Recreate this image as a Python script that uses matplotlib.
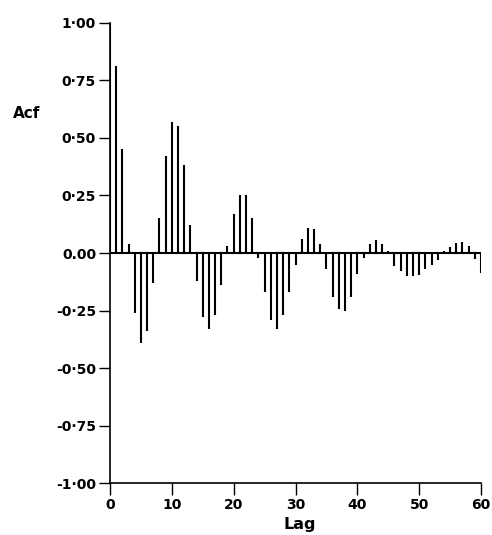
import matplotlib
matplotlib.use("Agg")
import matplotlib.pyplot as plt

lags = list(range(0, 61))
acf = [1.00,
       0.81, 0.45, 0.04, -0.26, -0.39, -0.34, -0.13, 0.15, 0.42, 0.57,
       0.55, 0.38, 0.12, -0.12, -0.28, -0.33, -0.27, -0.14, 0.03, 0.17,
       0.25, 0.25, 0.15, -0.02, -0.17, -0.29, -0.33, -0.27, -0.17, -0.05,
       0.06, 0.11, 0.105, 0.04, -0.07, -0.19, -0.245, -0.25, -0.19, -0.09,
       -0.02, 0.04, 0.055, 0.04, 0.007, -0.055, -0.08, -0.10, -0.10, -0.095,
       -0.07, -0.05, -0.03, 0.007, 0.025, 0.043, 0.046, 0.03, -0.026, -0.087]

yticks = [1.00, 0.75, 0.50, 0.25, 0.00, -0.25, -0.50, -0.75, -1.00]
ytick_labels = ["1·00", "0·75", "0·50", "0·25", "0.00", "-0·25", "-0·50", "-0·75", "-1·00"]
xticks = [0, 10, 20, 30, 40, 50, 60]
xtick_labels = ["0", "10", "20", "30", "40", "50", "60"]

W, H = 492, 535
fig = plt.figure(figsize=(W / 100, H / 100), dpi=100)
left, right, top, bottom = 110, 481, 22.7, 483.3
ax = fig.add_axes([left / W, 1 - bottom / H, (right - left) / W, (bottom - top) / H])

ax.vlines(lags, 0, acf, colors="black", linewidth=1.5)
ax.hlines(0, 0, 60, colors="black", linewidth=1.5)

ax.set_xlim(0, 60)
ax.set_ylim(-1, 1)
for s in ["top", "right"]:
    ax.spines[s].set_visible(False)
ax.spines["left"].set_linewidth(1.2)
ax.spines["bottom"].set_linewidth(1.2)

ax.set_yticks(yticks)
ax.set_yticklabels(ytick_labels, fontsize=10, fontweight="bold")
ax.set_xticks(xticks)
ax.set_xticklabels(xtick_labels, fontsize=10, fontweight="bold")
ax.tick_params(axis="y", direction="out", length=8, width=1.0, pad=2)
ax.tick_params(axis="x", direction="out", length=8.5, width=1.0, pad=2)

fig.text(27 / W, 1 - 113 / H, "Acf", fontsize=11, fontweight="bold",
         ha="center", va="center")
fig.text(300 / W, 1 - 525 / H, "Lag", fontsize=11.5, fontweight="bold",
         ha="center", va="center")

fig.savefig("out.png", dpi=100)
